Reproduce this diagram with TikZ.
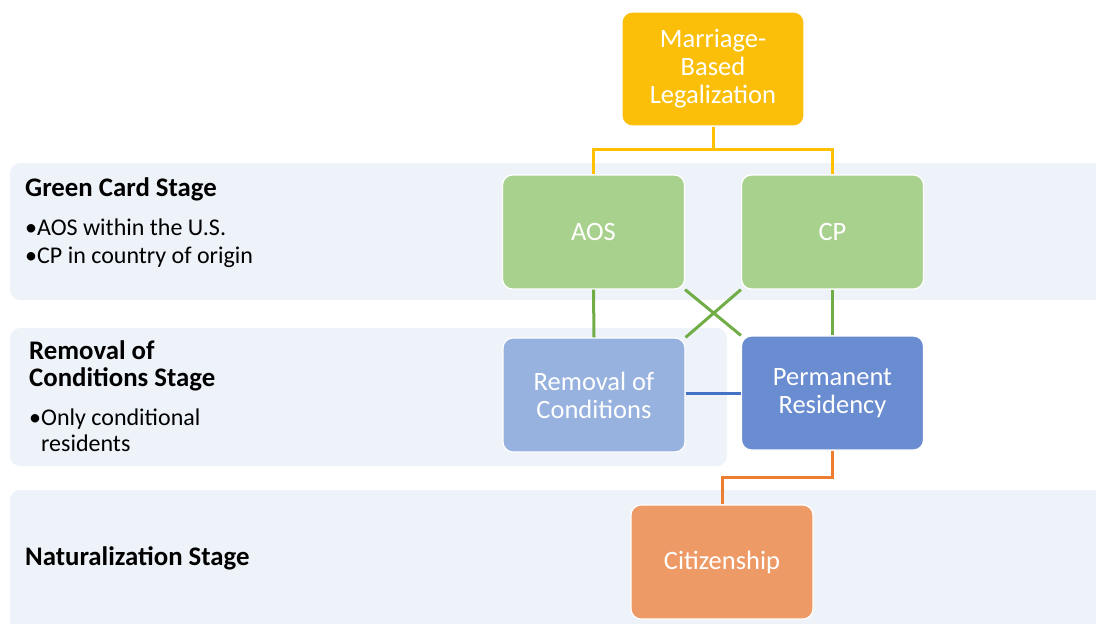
\documentclass[tikz,border=0pt]{standalone}
\usepackage{fontspec}
\setmainfont{Carlito}
\usetikzlibrary{positioning}
\definecolor{bandbg}{HTML}{EEF2F9}
\definecolor{goldfill}{HTML}{FBBF0A}
\definecolor{goldline}{HTML}{FFC000}
\definecolor{greenfill}{HTML}{A9D18E}
\definecolor{greenline}{HTML}{70AD47}
\definecolor{lbluefill}{HTML}{97B2DE}
\definecolor{bluefill}{HTML}{6A8CD0}
\definecolor{blueline}{HTML}{4472C4}
\definecolor{orangefill}{HTML}{EE9A66}
\definecolor{orangeline}{HTML}{ED7D31}
\tikzset{
  stagebox/.style={draw=white,line width=1.2pt,rounded corners=10pt,minimum width=182pt,minimum height=114pt,
    text=white,align=center,inner sep=0pt,font=\fontsize{26.5}{28}\selectfont},
  stagehead/.style={anchor=west,align=left,inner sep=0pt,font=\fontsize{26.8}{27}\selectfont\bfseries},
  stagenote/.style={anchor=west,align=left,inner sep=0pt,font=\fontsize{24}{26}\selectfont},
  link/.style={line width=3pt}
}
\begin{document}
\begin{tikzpicture}[x=1pt,y=-1pt]
	\useasboundingbox (0,0) rectangle (1096,624);
	\clip (0,0) rectangle (1096,624);
	
	\fill[bandbg,rounded corners=10pt] (10,163) rectangle (1120,300);
	\fill[bandbg,rounded corners=10pt] (10,328) rectangle (727,466);
	\fill[bandbg,rounded corners=10pt] (10,490) rectangle (1120,660);
	
	\node[stagehead] (gcs) at (25,189) {Green Card Stage};
	\node[stagenote] (gcs1) at (25,227) {\textbullet AOS within the U.S.};
	\node[stagenote] (gcs2) at (25,257) {\textbullet CP in country of origin};
	
	\node[stagehead] (rcs) at (29,366) {Removal of\\Conditions Stage};
	\node[stagenote] (rcs1) at (29,430) {\textbullet Only conditional\\\hphantom{\textbullet}residents};
	
	\node[stagehead] (nts) at (25,558) {Naturalization Stage};
	
	\node[stagebox,fill=goldfill] (mbl) at (713,69) {Marriage-\\Based\\Legalization};
	\node[stagebox,fill=greenfill] (aos) at (593.5,232) {AOS};
	\node[stagebox,fill=greenfill] (cp) at (832.5,232) {CP};
	\node[stagebox,fill=lbluefill] (roc) at (594,395) {Removal of\\Conditions};
	\node[stagebox,fill=bluefill] (pr) at (832.5,393) {Permanent\\Residency};
	\node[stagebox,fill=orangefill] (cit) at (722,562) {Citizenship};
	
	\draw[link,goldline] (mbl.south) -- ++(0,23) -| (aos.north);
	\draw[link,goldline] (mbl.south) -- ++(0,23) -| (cp.north);
	\draw[link,greenline] (aos.south) -- (roc.north);
	\draw[link,greenline] (cp.south) -- (pr.north);
	\draw[link,greenline] (aos.south east) -- (pr.north west);
	\draw[link,greenline] (cp.south west) -- (roc.north east);
	\draw[link,blueline] (roc.east |- pr.west) -- (pr.west);
	\draw[link,orangeline] (pr.south) -- ++(0,27) -| (cit.north);
\end{tikzpicture}
\end{document}
